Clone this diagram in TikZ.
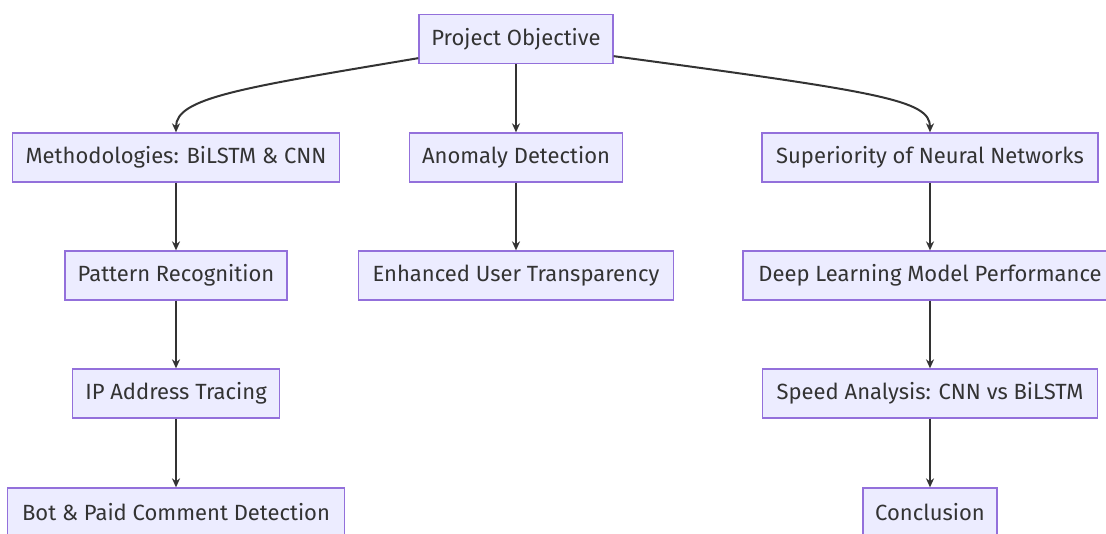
\documentclass[tikz,border=0pt]{standalone}
\usepackage{fontspec}
\setmainfont{Fira Sans}
\usetikzlibrary{arrows.meta}
\definecolor{boxfill}{HTML}{ECECFF}
\definecolor{boxline}{HTML}{9370DB}
\definecolor{ink}{HTML}{333333}

\begin{document}
\begin{tikzpicture}[x=1pt,y=-1pt,
  box/.style={draw=boxline,fill=boxfill,line width=1.3pt,text=ink,
    minimum height=49pt,inner xsep=2pt,font=\fontsize{22}{26}\selectfont},
  link/.style={draw=ink,line width=2pt,-{Stealth[length=9pt,width=8pt]}}]%
  \useasboundingbox (0,0) rectangle (1106,533);
  % top
  \node[box,minimum width=194pt] (goal) at (516,39) {Project Objective};
  % second row
  \node[box,minimum width=327pt] (meth) at (176,157.5) {Methodologies: BiLSTM \& CNN};
  \node[box,minimum width=213pt] (anom) at (516,157.5) {Anomaly Detection};
  \node[box,minimum width=336pt] (sup) at (930,157.5) {Superiority of Neural Networks};
  % third row
  \node[box,minimum width=222pt] (patt) at (176,275.5) {Pattern Recognition};
  \node[box,minimum width=315pt] (trans) at (516,275.5) {Enhanced User Transparency};
  \node[box,minimum width=374pt] (deep) at (930,275.5) {Deep Learning Model Performance};
  % fourth row
  \node[box,minimum width=207pt] (ip) at (176,393.5) {IP Address Tracing};
  \node[box,minimum width=335pt] (speed) at (930,393.5) {Speed Analysis: CNN vs BiLSTM};
  % last row
  \node[box,minimum width=337pt] (bot) at (176,512.5) {Bot \& Paid Comment Detection};
  \node[box,minimum width=134pt] (concl) at (930,512.5) {Conclusion};

  \draw[link] ([yshift=6pt]goal.south west) .. controls (240,88) and (176,98) .. (meth.north);
  \draw[link] (goal.south) -- (anom.north);
  \draw[link] ([yshift=8pt]goal.south east) .. controls (880,92) and (930,100) .. (sup.north);
  \draw[link] (meth) -- (patt);
  \draw[link] (patt) -- (ip);
  \draw[link] (ip) -- (bot);
  \draw[link] (anom) -- (trans);
  \draw[link] (sup) -- (deep);
  \draw[link] (deep) -- (speed);
  \draw[link] (speed) -- (concl);
\end{tikzpicture}
\end{document}
